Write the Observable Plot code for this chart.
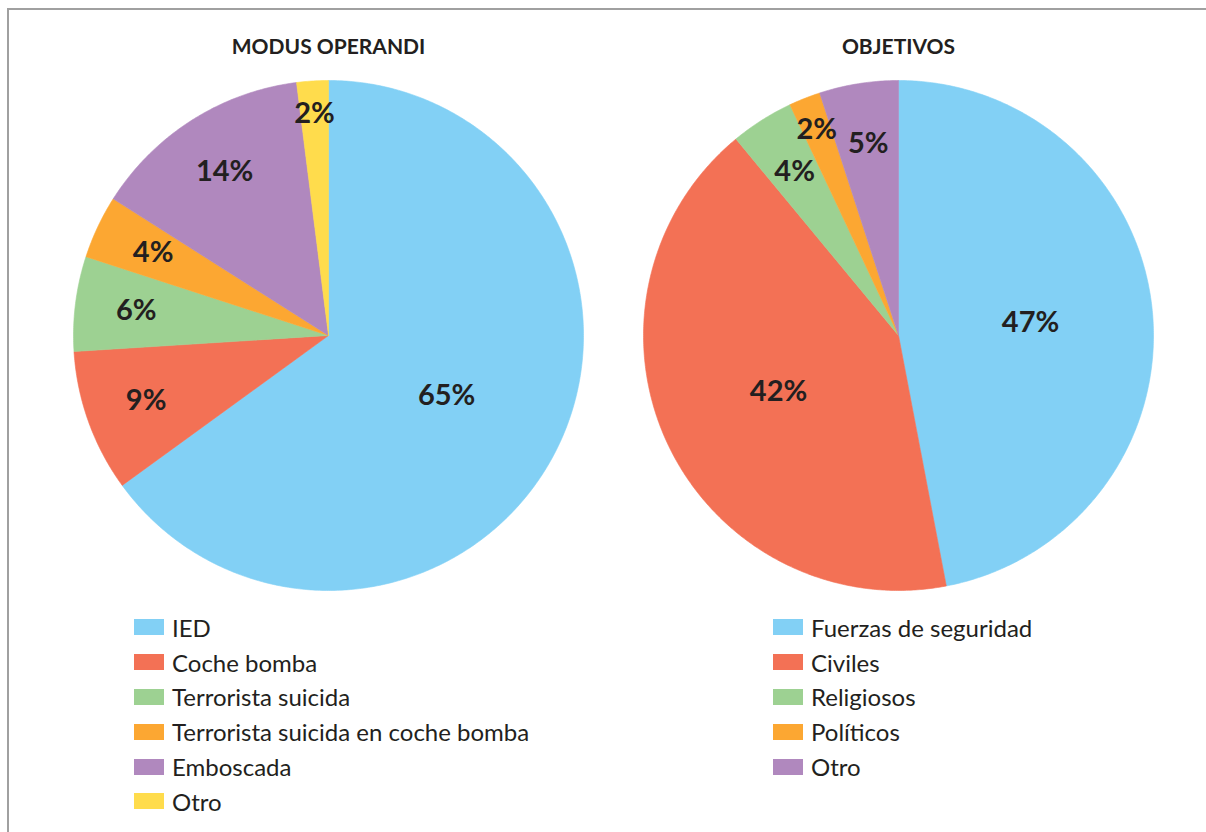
<!DOCTYPE html>
<html>
<head>
<meta charset="utf-8">
<script src="https://cdn.jsdelivr.net/npm/d3@7"></script>
<script src="https://cdn.jsdelivr.net/npm/@observablehq/plot@0.6"></script>
<style>
  html, body { margin: 0; padding: 0; background: #fff; overflow: hidden; }
  #wrap { position: relative; width: 1206px; height: 832px; overflow: hidden; }
  #frame { position: absolute; left: 7px; top: 8px; width: 1400px; height: 1000px;
           border-top: 2px solid #a0a0a0; border-left: 2px solid #a0a0a0; }
  #chart { position: absolute; left: 0; top: 0; }
  .legend { position: absolute; top: 610px; font-family: Lato, sans-serif; font-size: 24px; color: #231f20; }
  .legend .row { height: 34.8px; display: flex; align-items: center; }
  .legend .sw { width: 30px; height: 16px; margin-right: 8px; flex: none; }
</style>
</head>
<body>
<div id="wrap">
  <div id="frame"></div>
  <div id="chart"></div>
  <div class="legend" id="legLeft" style="left:134px"></div>
  <div class="legend" id="legRight" style="left:773px"></div>
</div>
<script>
// ---- data ----
const chartTitles = ["MODUS OPERANDI", "OBJETIVOS"];
const modusCategories = ["IED", "Coche bomba", "Terrorista suicida", "Terrorista suicida en coche bomba", "Emboscada", "Otro"];
const modusValues = [65, 9, 6, 4, 14, 2];
const objetivosCategories = ["Fuerzas de seguridad", "Civiles", "Religiosos", "Políticos", "Otro"];
const objetivosValues = [47, 42, 4, 2, 5];
const sliceColors = ["#82d0f5", "#f37155", "#9dd192", "#fca732", "#b088be", "#ffdc4c"];

// ---- build slices (unit-circle geometry, clockwise from top) ----
function buildSlices(title, cats, vals) {
  const total = d3.sum(vals);
  const polys = [], labels = [];
  let acc = 0;
  cats.forEach((c, i) => {
    const a0 = acc / total * 2 * Math.PI;
    acc += vals[i];
    const a1 = acc / total * 2 * Math.PI;
    const key = title + "|" + i;
    polys.push({fx: title, key, slot: i, x: 0, y: 0});
    const n = Math.max(2, Math.ceil((a1 - a0) / (Math.PI / 360)));
    for (let k = 0; k <= n; k++) {
      const a = a0 + (a1 - a0) * k / n;
      polys.push({fx: title, key, slot: i, x: Math.sin(a), y: Math.cos(a)});
    }
    polys.push({fx: title, key, slot: i, x: 0, y: 0});
    const share = vals[i] / total;
    const rl = share > 0.3 ? 0.52 : share < 0.03 ? 0.87 : 0.76;
    const am = (a0 + a1) / 2;
    labels.push({fx: title, x: rl * Math.sin(am), y: rl * Math.cos(am), text: vals[i] + "%"});
  });
  return {polys, labels};
}
const left = buildSlices(chartTitles[0], modusCategories, modusValues);
const right = buildSlices(chartTitles[1], objetivosCategories, objetivosValues);
const polys = left.polys.concat(right.polys);
const labels = left.labels.concat(right.labels);

const plot = Plot.plot({
  width: 1206,
  height: 600,
  marginTop: 80,
  marginBottom: 10,
  marginLeft: 73,
  marginRight: 53,
  style: {fontFamily: "Lato, sans-serif", background: "transparent"},
  fx: {domain: chartTitles, paddingInner: 60 / 570, paddingOuter: 0, round: false, axis: null},
  x: {domain: [-1, 1], axis: null},
  y: {domain: [-1, 1], axis: null},
  color: {type: "ordinal", domain: d3.range(sliceColors.length), range: sliceColors},
  marks: [
    Plot.line(polys, {fx: "fx", x: "x", y: "y", z: "key", fill: "slot", stroke: "slot", strokeWidth: 0.6, curve: "linear"}),
    Plot.text(labels, {fx: "fx", x: "x", y: "y", text: "text", fontSize: 29, fontWeight: "bold", fill: "#231f20"}),
    Plot.text(chartTitles, {fx: d => d, x: () => 0, y: () => 1, text: d => d, dy: -33, fontSize: 21, fontWeight: "bold", fill: "#231f20"})
  ]
});
document.getElementById("chart").appendChild(plot);

// ---- legends ----
function legend(el, cats) {
  cats.forEach((c, i) => {
    const row = document.createElement("div");
    row.className = "row";
    const sw = document.createElement("span");
    sw.className = "sw";
    sw.style.background = sliceColors[i];
    const t = document.createElement("span");
    t.textContent = c;
    row.appendChild(sw); row.appendChild(t);
    el.appendChild(row);
  });
}
legend(document.getElementById("legLeft"), modusCategories);
legend(document.getElementById("legRight"), objetivosCategories);
</script>
</body>
</html>
